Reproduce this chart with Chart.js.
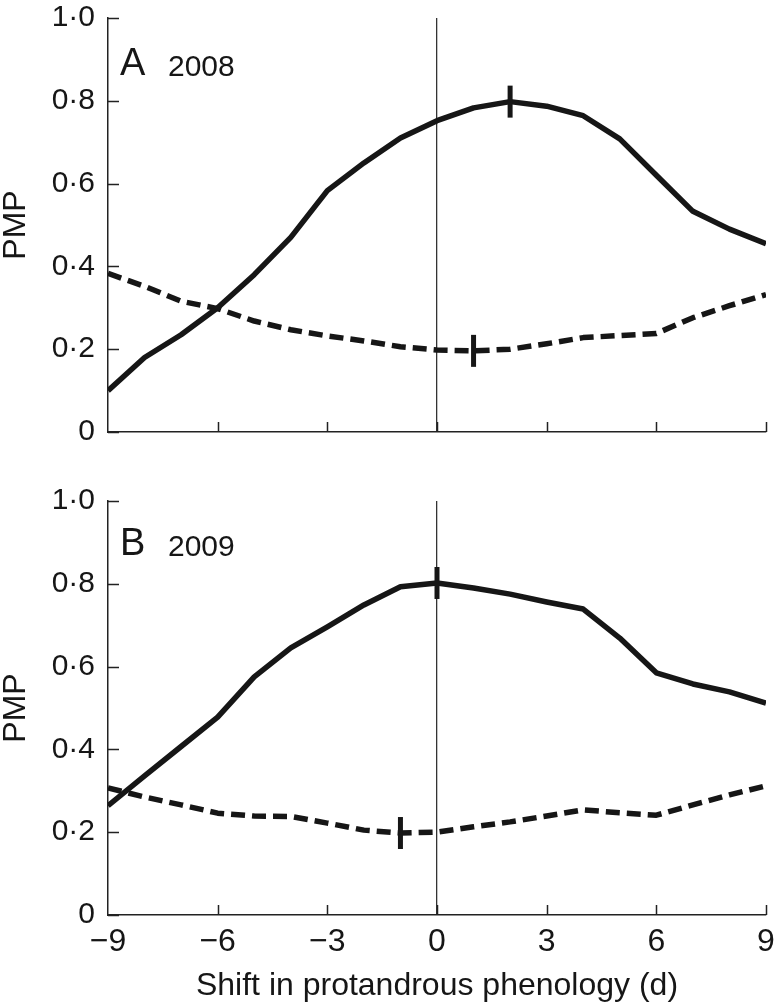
<!DOCTYPE html>
<html>
<head>
<meta charset="utf-8">
<script src="https://cdn.jsdelivr.net/npm/chart.js"></script>
<style>
  html, body { margin: 0; padding: 0; background: #fff; }
  #wrap { position: relative; width: 776px; height: 1006px; }
  canvas { position: absolute; left: 0; }
  #chartA { top: 0; }
  #chartB { top: 480px; }
</style>
</head>
<body>
<div id="wrap">
  <canvas id="chartA" width="776" height="450"></canvas>
  <canvas id="chartB" width="776" height="526"></canvas>
</div>
<script>
// shift in protandrous phenology (days)
const shiftDays = [-9, -8, -7, -6, -5, -4, -3, -2, -1, 0, 1, 2, 3, 4, 5, 6, 7, 8, 9];

// 2008 (panel A)
const solid2008 = [0.10, 0.18, 0.235, 0.30, 0.38, 0.47, 0.583, 0.65, 0.71, 0.752, 0.783, 0.798, 0.787, 0.764, 0.708, 0.62, 0.533, 0.49, 0.455];
const dashed2008 = [0.383, 0.352, 0.316, 0.298, 0.268, 0.247, 0.232, 0.22, 0.206, 0.198, 0.196, 0.20, 0.213, 0.228, 0.233, 0.238, 0.276, 0.305, 0.332];

// 2009 (panel B)
const solid2009 = [0.264, 0.336, 0.407, 0.478, 0.575, 0.645, 0.696, 0.749, 0.793, 0.802, 0.79, 0.775, 0.756, 0.739, 0.669, 0.585, 0.558, 0.539, 0.512];
const dashed2009 = [0.307, 0.285, 0.266, 0.246, 0.239, 0.238, 0.222, 0.205, 0.198, 0.20, 0.213, 0.225, 0.239, 0.254, 0.247, 0.241, 0.266, 0.29, 0.312];

// where the short vertical bars sit (x value)
const peak2008 = { solid: 2, dashed: 1 };
const peak2009 = { solid: 0, dashed: -1 };

const xTicks = [-9, -6, -3, 0, 3, 6, 9];
const xTickLabels = ['\u22129', '\u22126', '\u22123', '0', '3', '6', '9'];
const yTicks = [0, 0.2, 0.4, 0.6, 0.8, 1.0];
const yTickLabels = ['0', '0\u00b72', '0\u00b74', '0\u00b76', '0\u00b78', '1\u00b70'];

const INK = '#161616';
const FONT = "'Liberation Sans', Arial, Helvetica, sans-serif";

const inwardTicks = {
  id: 'inwardTicks',
  beforeDatasetsDraw(chart) {
    const { ctx, chartArea: a, scales: { x, y } } = chart;
    ctx.save();
    ctx.strokeStyle = '#222';
    ctx.lineWidth = 1.5;
    ctx.beginPath();
    y.ticks.forEach(t => {
      const py = Math.round(y.getPixelForValue(t.value)) + 0.5;
      ctx.moveTo(a.left, py);
      ctx.lineTo(a.left + 11, py);
    });
    x.ticks.forEach(t => {
      if (t.value === xTicks[0]) return;
      const px = Math.round(x.getPixelForValue(t.value)) + 0.5;
      ctx.moveTo(px, a.bottom);
      ctx.lineTo(px, a.bottom - 10);
    });
    ctx.stroke();
    ctx.restore();
  }
};

const panelLabel = {
  id: 'panelLabel',
  afterDraw(chart, args, opts) {
    const { ctx, chartArea: a } = chart;
    ctx.save();
    ctx.fillStyle = INK;
    ctx.textBaseline = 'alphabetic';
    ctx.textAlign = 'left';
    ctx.font = '38px ' + FONT;
    ctx.fillText(opts.letter, a.left + 12, a.top + opts.dy);
    ctx.font = '30px ' + FONT;
    ctx.fillText(opts.year, a.left + 60, a.top + opts.dy + 1);
    ctx.restore();
  }
};

function makePanel(id, solid, dashed, peaks, letter, year, showX, dy) {
  const pts = s => shiftDays.map((d, i) => ({ x: d, y: s[i] }));
  // a short vertical bar only at the peak / trough point of each curve
  const barAt = xv => c => (shiftDays[c.dataIndex] === xv ? 16 : 0);
  const series = (s, xv, dash) => ({
    data: pts(s), borderColor: INK, borderWidth: 5.5, borderDash: dash, tension: 0,
    borderJoinStyle: 'round',
    pointStyle: 'line', pointRotation: 90,
    pointRadius: barAt(xv), pointHoverRadius: barAt(xv), pointHitRadius: 0,
    pointBorderWidth: 5, pointBorderColor: INK, pointBackgroundColor: INK
  });
  return new Chart(document.getElementById(id), {
    type: 'line',
    data: {
      datasets: [
        series(solid, peaks.solid, []),
        series(dashed, peaks.dashed, [14, 7])
      ]
    },
    options: {
      responsive: false,
      animation: false,
      devicePixelRatio: 1,
      layout: { padding: { top: showX ? 21 : 18, right: 10, left: 0, bottom: 0 } },
      plugins: {
        legend: { display: false },
        tooltip: { enabled: false },
        panelLabel: { letter, year, dy }
      },
      scales: {
        x: {
          type: 'linear', min: -9, max: 9,
          afterBuildTicks: s => { s.ticks = xTicks.map(v => ({ value: v })); },
          afterFit: s => { s.height = showX ? 91 : 18; s.paddingLeft = 0; s.paddingRight = 0; },
          border: { color: '#222', width: 1.5 },
          grid: {
            drawTicks: false,
            lineWidth: 1.3,
            color: c => (c.tick && c.tick.value === 0 ? '#333' : 'rgba(0,0,0,0)')
          },
          ticks: {
            display: showX,
            padding: 8,
            maxRotation: 0,
            autoSkip: false,
            color: INK,
            font: { family: FONT, size: 32 },
            callback: v => xTickLabels[xTicks.indexOf(v)]
          },
          title: {
            display: showX,
            text: 'Shift in protandrous phenology (d)',
            color: INK,
            font: { family: FONT, size: 32 },
            padding: { top: 0, bottom: 1 }
          }
        },
        y: {
          min: 0, max: 1,
          afterBuildTicks: s => { s.ticks = yTicks.map(v => ({ value: v })); },
          afterFit: s => { s.width = 108; s.paddingTop = 0; s.paddingBottom = 0; },
          border: { color: '#222', width: 1.5 },
          grid: { display: false, drawTicks: false },
          ticks: {
            padding: 13,
            color: INK,
            font: { family: FONT, size: 30 },
            callback: v => yTickLabels[yTicks.indexOf(v)]
          },
          title: {
            display: true,
            text: 'PMP',
            color: INK,
            font: { family: FONT, size: 32, lineHeight: 1 },
            padding: { top: 0, bottom: 0 }
          }
        }
      }
    },
    plugins: [inwardTicks, panelLabel]
  });
}

makePanel('chartA', solid2008, dashed2008, peak2008, 'A', '2008', false, 57);
makePanel('chartB', solid2009, dashed2009, peak2009, 'B', '2009', true, 54);
</script>
</body>
</html>
